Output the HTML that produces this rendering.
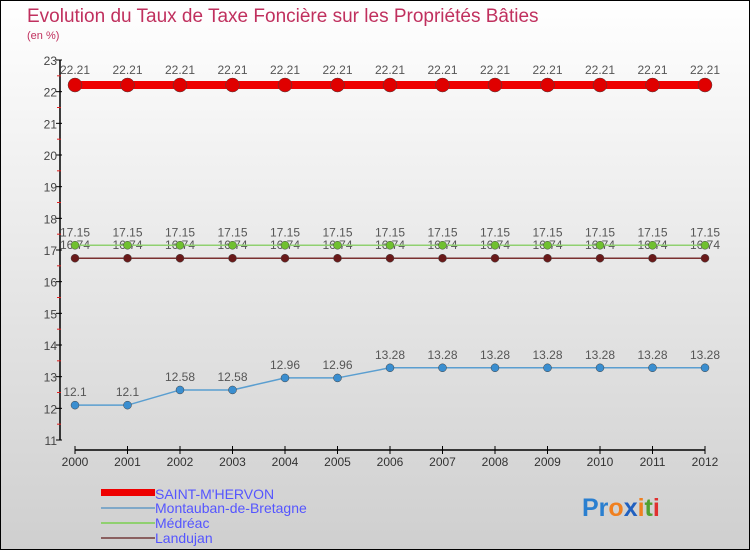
<!DOCTYPE html>
<html><head><meta charset="utf-8"><style>
body{margin:0;width:750px;height:550px;overflow:hidden;font-family:"Liberation Sans",sans-serif}
svg{display:block}
</style></head><body>
<svg width="750" height="550">
<defs><linearGradient id="bg" x1="0" y1="0" x2="0" y2="1"><stop offset="0" stop-color="#ffffff"/><stop offset="1" stop-color="#cfcfcf"/></linearGradient></defs>
<rect x="0.5" y="0.5" width="749" height="549" fill="url(#bg)" stroke="#000"/>
<text x="27" y="22" font-size="19" fill="#c0305e">Evolution du Taux de Taxe Foncière sur les Propriétés Bâties</text>
<text x="27" y="39" font-size="11" fill="#c0305e">(en %)</text>
<g id="axes"></g><g id="plot"></g>
<g>
<rect x="101" y="489" width="54" height="7" fill="#ee0000"/>
<text x="155" y="499" font-size="14" fill="#5555ff">SAINT-M'HERVON</text>
<rect x="101" y="507" width="54" height="2" fill="#7fa8c8"/>
<text x="155" y="513" font-size="14" fill="#5555ff">Montauban-de-Bretagne</text>
<rect x="101" y="522" width="54" height="2" fill="#90d070"/>
<text x="155" y="528" font-size="14" fill="#5555ff">Médréac</text>
<rect x="101" y="537" width="54" height="2" fill="#8a6060"/>
<text x="155" y="543" font-size="14" fill="#5555ff">Landujan</text>
</g>
<text x="582" y="516" font-size="25" font-weight="bold"><tspan fill="#2a7fd0">Pr</tspan><tspan fill="#f08020">o</tspan><tspan fill="#2060c0">x</tspan><tspan fill="#f08020">i</tspan><tspan fill="#50a030">t</tspan><tspan fill="#e03030">i</tspan></text>
</svg>
<script>
const years=[2000,2001,2002,2003,2004,2005,2006,2007,2008,2009,2010,2011,2012];
const yTicks=[11,12,13,14,15,16,17,18,19,20,21,22,23];
const saint=[22.21,22.21,22.21,22.21,22.21,22.21,22.21,22.21,22.21,22.21,22.21,22.21,22.21];
const montauban=[12.1,12.1,12.58,12.58,12.96,12.96,13.28,13.28,13.28,13.28,13.28,13.28,13.28];
const medreac=[17.15,17.15,17.15,17.15,17.15,17.15,17.15,17.15,17.15,17.15,17.15,17.15,17.15];
const landujan=[16.74,16.74,16.74,16.74,16.74,16.74,16.74,16.74,16.74,16.74,16.74,16.74,16.74];
const NS="http://www.w3.org/2000/svg";
const X=i=>75+i*(630/(years.length-1));
const Y=v=>440-(v-11)*(380/12);
function mk(t,a,p){const e=document.createElementNS(NS,t);for(const k in a)e.setAttribute(k,a[k]);p.appendChild(e);return e;}
const ax=document.getElementById('axes'),pl=document.getElementById('plot');
const yl=mk('line',{x1:60,y1:60,x2:60,y2:440,stroke:'#000','stroke-width':1.5},ax);


yTicks.forEach((v,i)=>{
 mk('line',{x1:56,y1:Y(v),x2:62,y2:Y(v),stroke:'#000'},ax);
 if(i<yTicks.length-1)mk('line',{x1:57,y1:Y(v+0.5),x2:61,y2:Y(v+0.5),stroke:'#e02020'},ax);
 const t=mk('text',{x:57,y:Y(v)+5,'text-anchor':'end','font-size':12,fill:'#444'},ax);t.textContent=v;
 
 
});
const xl=mk('line',{x1:X(0),y1:450,x2:X(years.length-1),y2:450,stroke:'#000','stroke-width':1.5},ax);


years.forEach((y,i)=>{
 mk('line',{x1:X(i),y1:446,x2:X(i),y2:454,stroke:'#000'},ax);
 const t=mk('text',{x:X(i),y:466,'text-anchor':'middle','font-size':12,fill:'#333'},ax);t.textContent=y;
 
 
});
function series(vals,name,color,lw,r,dot,lblDy){
 const g=mk('g',{},pl);
 
 
 mk('polyline',{points:vals.map((v,i)=>X(i)+','+Y(v)).join(' '),fill:'none',stroke:color,'stroke-width':lw},g);
 vals.forEach((v,i)=>{
  const c=mk('circle',{cx:X(i),cy:Y(v),r:r,fill:dot,stroke:'#444','stroke-width':0.5},g);
  
  
  const t=mk('text',{x:X(i),y:Y(v)+lblDy,'text-anchor':'middle','font-size':12,fill:'#555'},g);t.textContent=v;
  
  
 });
}
series(landujan,'landujan','#7a3030',1.5,4,'#6a1a1a',-9);
series(medreac,'medreac','#90d070',1.5,4,'#70c030',-9);
series(montauban,'montauban','#5a9ed0',1.5,4,'#3a8ed0',-9);
series(saint,'saint-mhervon','#ee0000',8,7,'#e00000',-11);
</script>
</body></html>
